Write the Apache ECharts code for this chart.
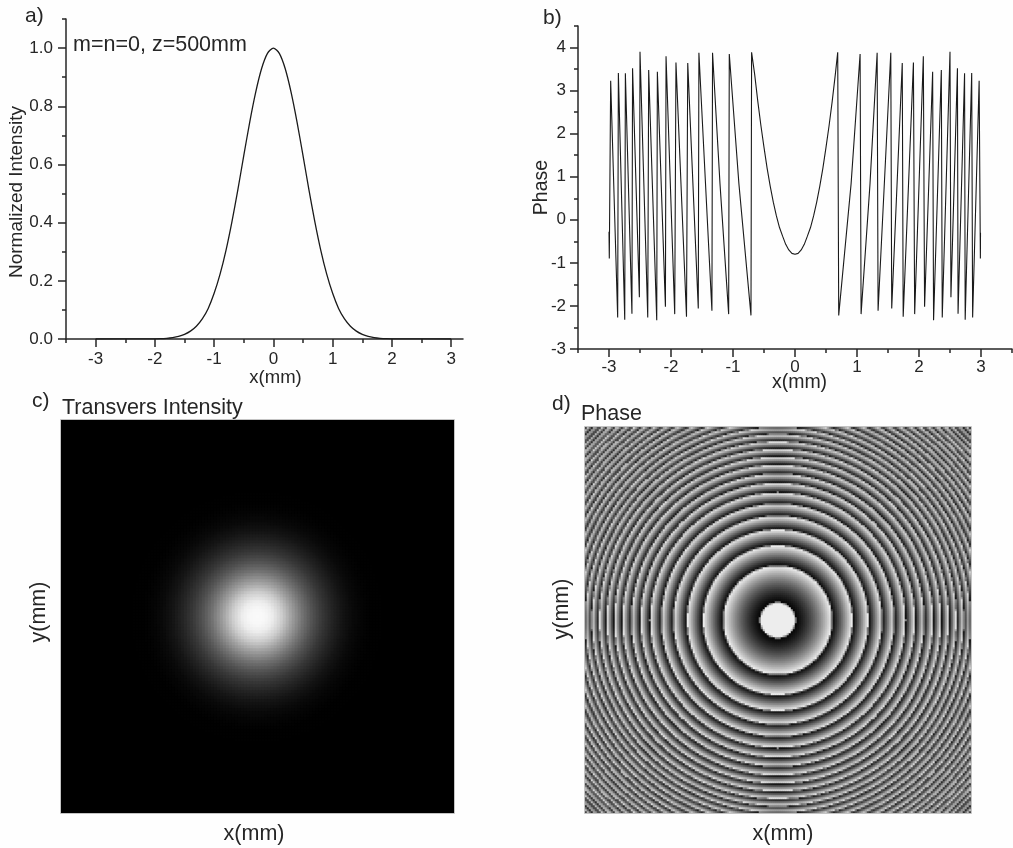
<!DOCTYPE html>
<html><head><meta charset="utf-8">
<style>html,body{margin:0;padding:0;background:#fefefe}#c{width:1013px;height:848px}</style>
<script src="https://cdn.jsdelivr.net/npm/echarts@6/dist/echarts.min.js"></script>
</head><body><div id="c"></div><script>
// a) normalized intensity profile
const intensityX = [-3,-2,-1.9,-1.8,-1.7,-1.6,-1.5,-1.4,-1.3,-1.2,-1.1,-1,-0.9,-0.8,-0.7,-0.6,-0.5,-0.4,-0.3,-0.2,-0.1,0,0.1,0.2,0.3,0.4,0.5,0.6,0.7,0.8,0.9,1,1.1,1.2,1.3,1.4,1.5,1.6,1.7,1.8,1.9,2,3];
const intensityY = [0,0.0005,0.001,0.0025,0.005,0.009,0.016,0.027,0.044,0.069,0.105,0.157,0.223,0.305,0.403,0.513,0.63,0.745,0.847,0.929,0.982,1,0.982,0.929,0.847,0.745,0.63,0.513,0.403,0.305,0.223,0.157,0.105,0.069,0.044,0.027,0.016,0.009,0.005,0.0025,0.001,0.0005,0];
// b) wrapped phase
const phaseX = [-3,-2.995,-2.973,-2.86,-2.849,-2.746,-2.736,-2.63,-2.62,-2.51,-2.5,-2.375,-2.36,-2.23,-2.22,-2.09,-2.08,-1.94,-1.92,-1.75,-1.73,-1.56,-1.55,-1.34,-1.33,-1.21,-1.07,-1.06,-0.905,-0.71,-0.7,-0.65,-0.6,-0.55,-0.5,-0.45,-0.4,-0.35,-0.3,-0.25,-0.2,-0.15,-0.1,-0.05,0,0.05,0.1,0.15,0.2,0.25,0.3,0.35,0.4,0.45,0.5,0.55,0.6,0.65,0.689,0.705,0.905,1.05,1.066,1.21,1.325,1.34,1.545,1.56,1.73,1.745,1.91,1.93,2.07,2.09,2.22,2.235,2.36,2.375,2.5,2.515,2.62,2.63,2.735,2.745,2.85,2.865,2.97,2.99,2.992];
const phaseY = [-0.28,-0.9,3.23,-2.27,3.41,-2.32,3.4,-2.18,3.52,-1.8,3.9,-2.27,3.48,-2.33,3.44,-2.02,3.8,-2.19,3.65,-2.25,3.64,-2.06,3.88,-2.11,3.88,0.84,-2.19,3.85,0.84,-2.22,3.89,3.37,2.75,2.19,1.68,1.2,0.78,0.41,0.09,-0.18,-0.38,-0.57,-0.7,-0.78,-0.8,-0.78,-0.7,-0.57,-0.38,-0.18,0.09,0.41,0.78,1.2,1.68,2.19,2.75,3.37,3.89,-2.22,0.84,3.85,-2.19,0.84,3.88,-2.11,3.88,-2.06,3.64,-2.25,3.65,-2.19,3.8,-2.02,3.44,-2.33,3.48,-2.27,3.9,-1.8,3.52,-2.18,3.4,-2.32,3.41,-2.27,3.23,-0.9,-0.3];
// c) radial grey profile of the transverse spot (r in mm, level 0..1)
const spotR = [0,0.12,0.23,0.38,0.53,0.69,0.84,0.99,1.15,1.3,1.45,1.6,1.76,2,5];
const spotLevel = [0.98,0.97,0.93,0.8,0.62,0.45,0.32,0.22,0.14,0.08,0.04,0.016,0.004,0,0];
// d) radii (mm) where the wrapped phase jumps; centre disc first
const ringR = [0.275,0.847,1.163,1.411,1.62,1.808,1.982,2.133,2.274,2.414,2.54,2.661,2.779,2.888,2.992,3.093,3.194,3.291,3.386,3.479,3.569,3.656,3.742,3.826,3.906,3.987,4.066,4.143,4.219,4.293];
const ringDark = 0.02, ringLight = 0.96, discLevel = 0.93;
// tick lists
const ticksAX = [-3,-2,-1,0,1,2,3], minorAX = [-3.5,-2.5,-1.5,-0.5,0.5,1.5,2.5];
const ticksAY = [0,0.2,0.4,0.6,0.8,1], minorAY = [0.1,0.3,0.5,0.7,0.9,1.1];
const ticksBX = [-3,-2,-1,0,1,2,3], minorBX = [-3.5,-2.5,-1.5,-0.5,0.5,1.5,2.5,3.5];
const ticksBY = [-3,-2,-1,0,1,2,3,4], minorBY = [-2.5,-1.5,-0.5,0.5,1.5,2.5,3.5,4.5];
const spotCells = 131, phaseCells = 193, halfSpan = 3;

const INK = '#262626', FONT = '"Liberation Sans", Arial, sans-serif';
function spotAt(r){
  for(let k=1;k<spotR.length;k++) if(r<=spotR[k]){
    const t=(r-spotR[k-1])/(spotR[k]-spotR[k-1]);
    return spotLevel[k-1]+t*(spotLevel[k]-spotLevel[k-1]);
  }
  return 0;
}
function phaseAt(r){
  if(r<ringR[0]) return discLevel;
  for(let k=1;k<ringR.length;k++) if(r<ringR[k]){
    const a=ringR[k-1]*ringR[k-1], b=ringR[k]*ringR[k];
    return ringDark+(ringLight-ringDark)*(r*r-a)/(b-a);
  }
  return ringDark;
}
// each table cell holds the mean of the radial profile over the cell's area
function cells(n,fn,subSamples){
  const out=[], step=2*halfSpan/n;
  for(let i=0;i<n;i++){
    for(let j=0;j<n;j++){
      let sum=0;
      for(let a=0;a<subSamples;a++) for(let b=0;b<subSamples;b++){
        const x=-halfSpan+(i+(a+0.5)/subSamples)*step, y=-halfSpan+(j+(b+0.5)/subSamples)*step;
        sum+=fn(Math.hypot(x,y));
      }
      out.push([i,j,+(sum/(subSamples*subSamples)).toFixed(3)]);
    }
  }
  return out;
}
const idx=n=>Array.from({length:n},(_,i)=>i);
const zip=(a,b)=>a.map((v,i)=>[v,b[i]]);
const tickFont={color:INK,fontFamily:FONT,fontSize:17};
const nameFont=(size,padding)=>({color:INK,fontFamily:FONT,fontSize:size,padding});
const line={lineStyle:{color:INK,width:1.5}};
function major(grid,pos,min,max,ticks,margin,name,gap,size,padding,fmt){
  return {type:'value',gridIndex:grid,position:pos,min,max,splitLine:{show:false},
    axisLine:{show:true,onZero:false,...line},
    axisTick:{show:true,inside:false,length:8,customValues:ticks,...line},
    axisLabel:{...tickFont,margin,customValues:ticks,formatter:fmt||(v=>String(v)),showMinLabel:true,showMaxLabel:true},
    name,nameLocation:'middle',nameGap:gap,nameMoveOverlap:false,nameTextStyle:nameFont(size,padding)};
}
function minor(grid,pos,min,max,ticks){
  return {type:'value',gridIndex:grid,position:pos,min,max,splitLine:{show:false},
    axisLine:{show:false,onZero:false},axisLabel:{show:false},
    axisTick:{show:true,inside:false,length:4,customValues:ticks,...line}};
}
function cat(grid,n,name,gap,padding){
  return {type:'category',gridIndex:grid,data:idx(n),axisLine:{show:false},axisTick:{show:false},axisLabel:{show:false},splitLine:{show:false},
    name,nameLocation:'middle',nameGap:gap,nameTextStyle:nameFont(21.5,padding)};
}
const note=(text,left,top,fontSize)=>({text,left,top,padding:0,textStyle:{color:INK,fontFamily:FONT,fontSize,fontWeight:'normal'}});
const chart=echarts.init(document.getElementById('c'),null,{renderer:'canvas'});
chart.setOption({
  animation:false,backgroundColor:'#fefefe',
  title:[note('a)',25,6,21),note('b)',543,8,21),note('c)',32,391,21),note('d)',552,394,21),
    note('m=n=0, z=500mm',73,34,21.5),note('Transvers Intensity',62,397,21.5),note('Phase',581,403,21.5)],
  grid:[{left:66,top:19,width:397,height:320},{left:578,top:26,width:434,height:323},
    {left:61,top:420,width:393,height:393},{left:585,top:427,width:386,height:386}],
  xAxis:[
    major(0,'bottom',-3.5,3.2,ticksAX,12,'x(mm)',29,18.5,[0,0,0,22]),
    minor(0,'bottom',-3.5,3.2,minorAX),
    major(1,'bottom',-3.5,3.5,ticksBX,10,'x(mm)',24,19.5,[0,0,0,9]),
    minor(1,'bottom',-3.5,3.5,minorBX),
    cat(2,spotCells,'x(mm)',10,[0,7,0,0]),
    cat(3,phaseCells,'x(mm)',10,[0,0,0,10])
  ],
  yAxis:[
    major(0,'left',0,1.1,ticksAY,13,'Normalized Intensity',40,19,[0,26,0,0],v=>v.toFixed(1)),
    minor(0,'left',0,1.1,minorAY),
    major(1,'left',-3,4.5,ticksBY,12,'Phase',26,19.5,[0,0,0,0]),
    minor(1,'left',-3,4.5,minorBY),
    cat(2,spotCells,'y(mm)',11,[0,0,0,9]),
    cat(3,phaseCells,'y(mm)',12,[0,0,0,22])
  ],
  visualMap:[
    {show:false,type:'continuous',seriesIndex:2,min:0,max:1,inRange:{color:['#000000','#ffffff']}},
    {show:false,type:'continuous',seriesIndex:3,min:0,max:1,inRange:{color:['#000000','#ffffff']}}
  ],
  series:[
    {type:'line',xAxisIndex:0,yAxisIndex:0,data:zip(intensityX,intensityY),showSymbol:false,smooth:0.25,lineStyle:{color:'#1a1a1a',width:1.3}},
    {type:'line',xAxisIndex:2,yAxisIndex:2,data:zip(phaseX,phaseY),showSymbol:false,lineStyle:{color:'#1a1a1a',width:1.1}},
    {type:'heatmap',xAxisIndex:4,yAxisIndex:4,data:cells(spotCells,spotAt,3),progressive:0,emphasis:{disabled:true}},
    {type:'heatmap',xAxisIndex:5,yAxisIndex:5,data:cells(phaseCells,phaseAt,2),progressive:0,emphasis:{disabled:true}}
  ],
  graphic:[
    {type:'rect',silent:true,z:100,shape:{x:60.5,y:419.5,width:394,height:394},style:{fill:'none',stroke:'#c4c4c4',lineWidth:1}},
    {type:'rect',silent:true,z:100,shape:{x:584.5,y:426.5,width:387,height:387},style:{fill:'none',stroke:'#c4c4c4',lineWidth:1}}
  ]
});
</script></body></html>
